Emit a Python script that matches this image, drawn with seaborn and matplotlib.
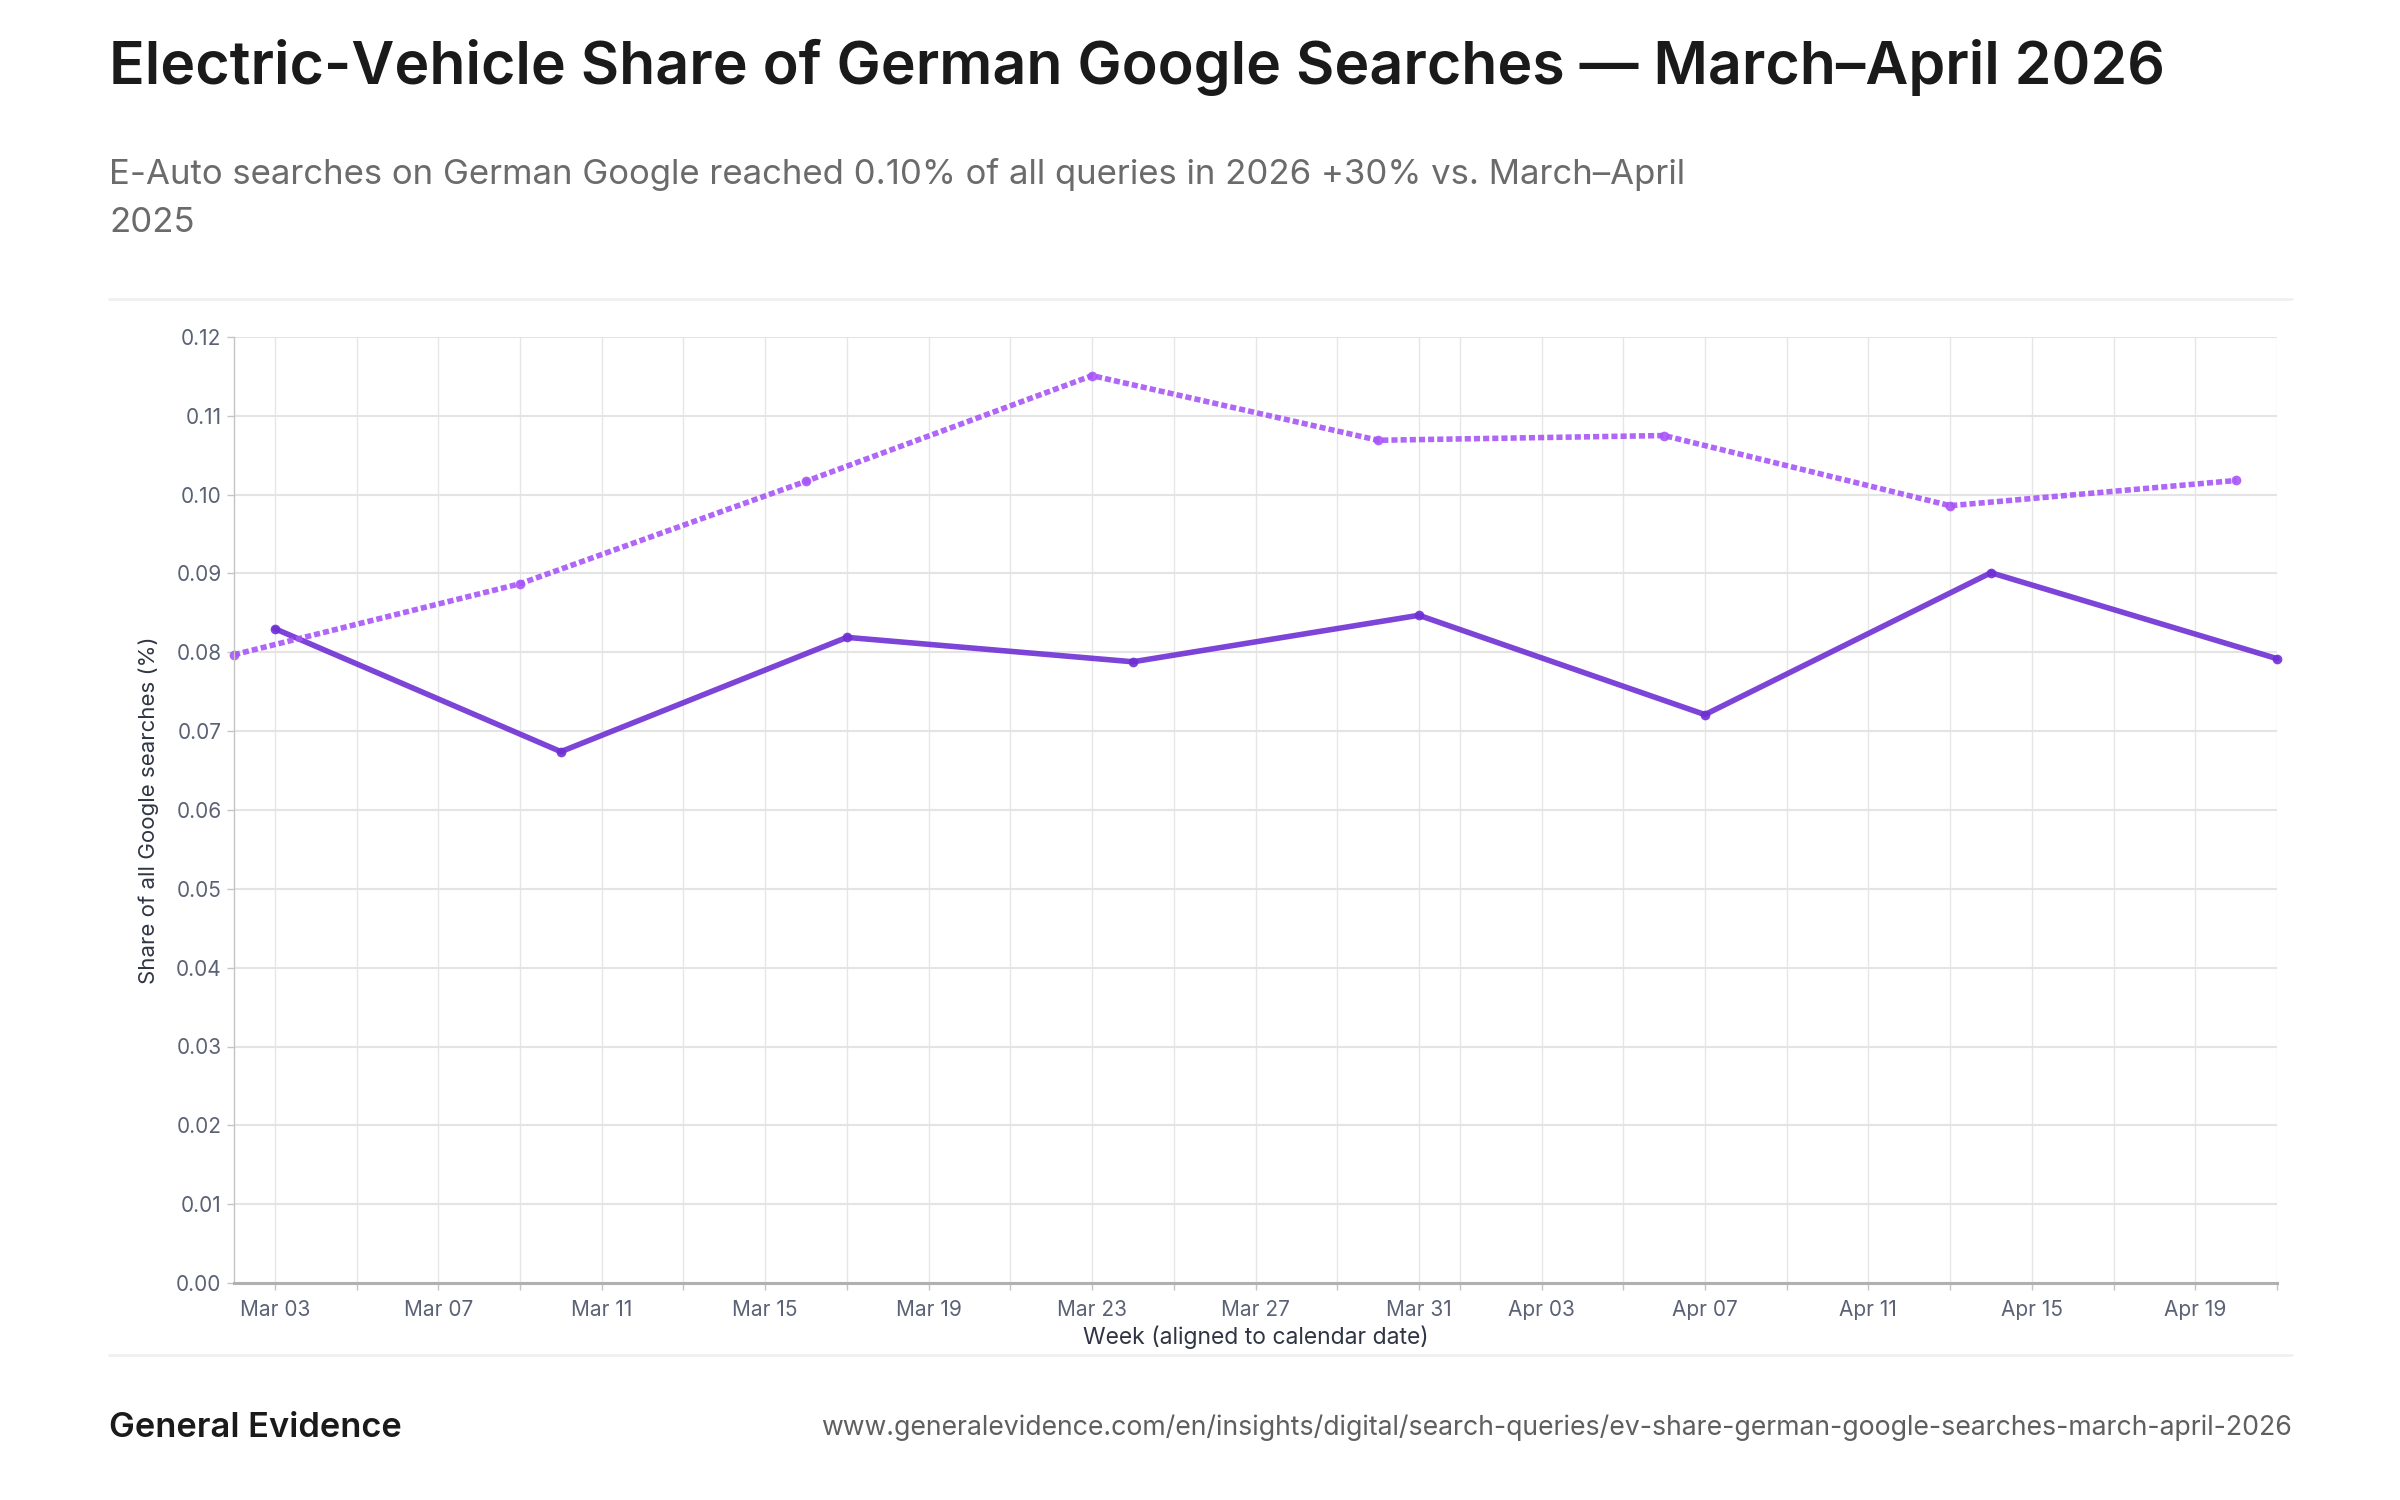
import pandas as pd
import matplotlib.pyplot as plt
import matplotlib.dates as mdates
from matplotlib.lines import Line2D
import seaborn as sns

# Daten
weeks_2026 = ["2026-03-03", "2026-03-10", "2026-03-17", "2026-03-24",
              "2026-03-31", "2026-04-07", "2026-04-14", "2026-04-21"]
share_2026 = [0.0830, 0.0674, 0.0819, 0.0788, 0.0847, 0.0721, 0.0901, 0.0792]

# 2025-Wochen, auf Kalenderdatum 2026 verschoben
weeks_2025 = ["2026-03-02", "2026-03-09", "2026-03-16", "2026-03-23",
              "2026-03-30", "2026-04-06", "2026-04-13", "2026-04-20"]
share_2025 = [0.0797, 0.0887, 0.1017, 0.1151, 0.1069, 0.1075, 0.0986, 0.1018]

y_ticks = [0.00, 0.01, 0.02, 0.03, 0.04, 0.05, 0.06, 0.07, 0.08, 0.09, 0.10, 0.11, 0.12]

title = "Electric-Vehicle Share of German Google Searches — March–April 2026"
subtitle = ("E-Auto searches on German Google reached 0.10% of all queries in 2026 +30% vs. March–April\n"
            "2025")
source_url = "www.generalevidence.com/en/insights/digital/search-queries/ev-share-german-google-searches-march-april-2026"

df = pd.concat([
    pd.DataFrame({"week": pd.to_datetime(weeks_2026), "share": share_2026, "series": "2026"}),
    pd.DataFrame({"week": pd.to_datetime(weeks_2025), "share": share_2025, "series": "2025"}),
])

sns.set_theme(style="whitegrid")
plt.rcParams["font.family"] = ["Inter", "DejaVu Sans"]

W, H = 2400, 1500
fig = plt.figure(figsize=(24, 15), dpi=100)
fig.patch.set_facecolor("white")

def fx(px):
    return px / W

def fy(py):
    return 1 - py / H

ax = fig.add_axes([fx(234), fy(1283), fx(2277 - 234), (1283 - 337) / H])
ax.set_facecolor("white")

sns.lineplot(data=df, x="week", y="share", hue="series", style="series",
             hue_order=["2026", "2025"], style_order=["2026", "2025"],
             palette={"2026": "#6f2fd4", "2025": "#a855f7"},
             dashes={"2026": "", "2025": (1.1, 0.55)},
             markers={"2026": "o", "2025": "o"},
             markersize=7, markeredgewidth=0, linewidth=4.0,
             legend=False, ax=ax)
for ln in ax.lines:
    ln.set_alpha(0.9)
    ln.set_clip_on(False)

ax.set_xlim(pd.Timestamp("2026-03-02"), pd.Timestamp("2026-04-21"))
ax.set_ylim(0, 0.12)
ax.set_yticks(y_ticks)
ax.yaxis.set_major_formatter(plt.FuncFormatter(lambda v, p: f"{v:.2f}"))

ax.xaxis.set_major_locator(mdates.DayLocator(bymonthday=range(1, 32, 2)))
ax.xaxis.set_major_formatter(plt.FuncFormatter(
    lambda v, p: mdates.num2date(v).strftime("%b %d")
    if (mdates.num2date(v).day - 3) % 4 == 0 else ""))

ax.grid(axis="y", color="#e4e4e4", linewidth=1.5)
ax.grid(axis="x", color="#e6e6e6", linewidth=1.0)
for side in ["top", "right"]:
    ax.spines[side].set_visible(False)
ax.spines["left"].set_color("#c4c4c4")
ax.spines["left"].set_linewidth(1.0)
ax.spines["bottom"].set_color("#b0b0b0")
ax.spines["bottom"].set_linewidth(2.2)

ax.tick_params(axis="both", which="major", labelsize=15, labelcolor="#5b6275",
               color="#c4c4c4", length=5, width=1, bottom=True, left=True)
ax.tick_params(axis="x", pad=7)
ax.tick_params(axis="y", pad=4)

ax.set_xlabel("Week (aligned to calendar date)", fontsize=16.5, color="#2f3542", labelpad=4)
ax.set_ylabel("Share of all Google searches (%)", fontsize=16, color="#2f3542", labelpad=12)

# Titel und Untertitel
fig.text(fx(109), fy(67), title, fontsize=42.5, fontweight="semibold", color="#1a1a1a",
         ha="left", va="center")
fig.text(fx(109), fy(158), subtitle, fontsize=25, color="#6b6b6b",
         ha="left", va="top", linespacing=1.65)

# Trennlinien
for y in (299, 1355):
    fig.add_artist(Line2D([fx(109), fx(2292)], [fy(y), fy(y)], color="#f0f0f0", linewidth=2))

# Fußzeile
fig.text(fx(109), fy(1428), "General Evidence", fontsize=24.8, fontweight="semibold",
         color="#1a1a1a", ha="left", va="center")
fig.text(fx(2292), fy(1428), source_url, fontsize=19.2, color="#5f5f5f",
         ha="right", va="center")

plt.savefig("out.png", dpi=100, facecolor="white")
plt.close()
